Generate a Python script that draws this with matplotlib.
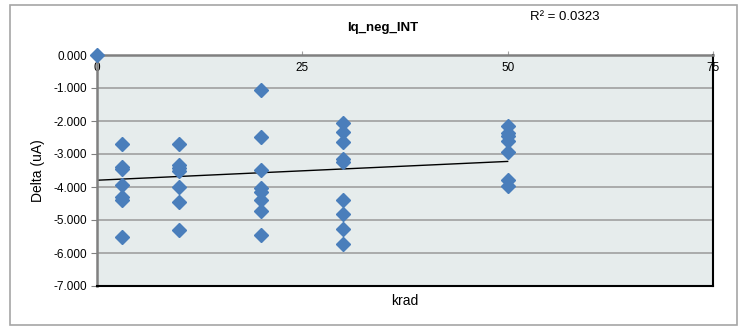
import numpy as np
import matplotlib
matplotlib.use('Agg')
import matplotlib.pyplot as plt
from matplotlib.patches import Rectangle

# krad dose and delta current (uA)
krad = [0,
        3, 3, 3, 3, 3, 3, 3,
        10, 10, 10, 10, 10, 10, 10,
        20, 20, 20, 20, 20, 20, 20, 20,
        30, 30, 30, 30, 30, 30, 30, 30, 30,
        50, 50, 50, 50, 50, 50, 50]
delta = [0.0,
         -2.71, -3.38, -3.46, -3.93, -4.29, -4.39, -5.50,
         -2.71, -3.32, -3.42, -3.53, -3.99, -4.45, -5.30,
         -1.06, -2.49, -3.47, -4.02, -4.16, -4.39, -4.73, -5.46,
         -2.07, -2.33, -2.65, -3.15, -3.24, -4.39, -4.83, -5.26, -5.73,
         -2.14, -2.37, -2.45, -2.61, -2.93, -3.78, -3.98]

x_ticks = [0, 25, 50, 75]
y_ticks = [0, -1, -2, -3, -4, -5, -6, -7]

plt.rcParams['font.family'] = ['Liberation Sans', 'DejaVu Sans']

fig = plt.figure(figsize=(7.42, 3.28), dpi=100)
ax = fig.add_axes([97 / 742, 42 / 328, 616 / 742, 231 / 328])
ax.set_facecolor('#E6ECEC')

# outer chart border
fig.patches.append(Rectangle((10 / 742, 3 / 328), 727 / 742, 320 / 328,
                             transform=fig.transFigure, fill=False,
                             edgecolor='#A6A6A6', lw=1.2))

ax.set_xlim(0, 75)
ax.set_ylim(-7, 0)

for yv in y_ticks[1:-1]:
    ax.axhline(yv, color='#A0A0A0', lw=1.2, zorder=1)

# linear trend line
k, b = np.polyfit(krad, delta, 1)
xs = np.array([0, max(krad)])
ax.plot(xs, k * xs + b, color='black', lw=1.0, zorder=2)

ax.plot(krad, delta, linestyle='none', marker='D', ms=6.8,
        color='#4A7EBB', zorder=3, clip_on=False)

ax.set_yticks(y_ticks)
ax.set_yticklabels(['%.3f' % v for v in y_ticks])
ax.tick_params(axis='y', length=4, color='#808080', labelsize=8.5, pad=3)

ax.xaxis.tick_top()
ax.set_xticks(x_ticks)
ax.tick_params(axis='x', direction='out', length=3, color='#A0A0A0',
               labelsize=8.5, pad=-17)
ax.xaxis.set_label_position('bottom')
ax.set_xlabel('krad', fontsize=10, labelpad=6)
ax.set_ylabel('Delta (uA)', fontsize=10, labelpad=6)

ax.spines['top'].set_color('#808080')
ax.spines['top'].set_linewidth(1.8)
ax.spines['left'].set_color('#808080')
ax.spines['left'].set_linewidth(1.8)
ax.spines['right'].set_color('black')
ax.spines['right'].set_linewidth(1.5)
ax.spines['bottom'].set_color('black')
ax.spines['bottom'].set_linewidth(1.5)

fig.text(383 / 742, 1 - 28 / 328, 'Iq_neg_INT', ha='center', va='center',
         fontsize=9.5, fontweight='bold')
fig.text(565 / 742, 1 - 17 / 328, 'R² = 0.0323', ha='center', va='center',
         fontsize=9.5)

fig.savefig('out.png', dpi=100)
